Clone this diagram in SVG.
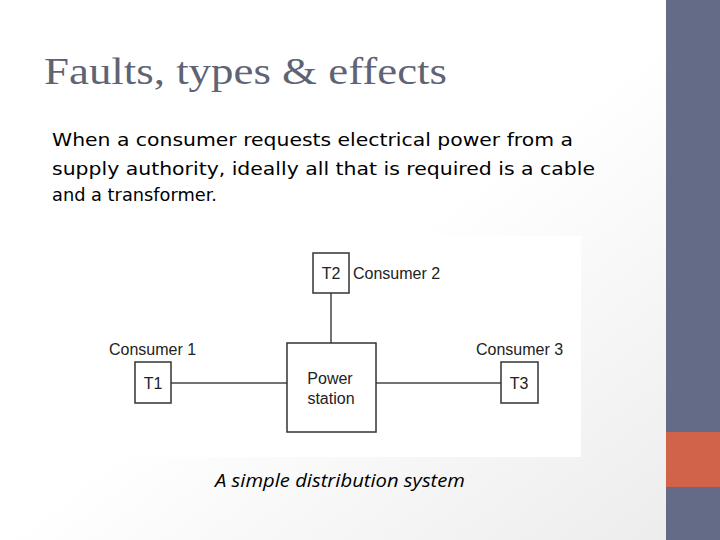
<svg xmlns="http://www.w3.org/2000/svg" width="720" height="540" viewBox="0 0 720 540">
<defs>
<linearGradient id="bg" x1="0" y1="0" x2="1" y2="1"><stop offset="0" stop-color="#ffffff"/><stop offset="0.5" stop-color="#ffffff"/><stop offset="1" stop-color="#ebebeb"/></linearGradient>
<style>
.box{fill:#fff;stroke:#333;stroke-width:1.5}
.lbl{font-family:"Liberation Sans",Arial,sans-serif;font-size:16px;fill:#222}
.body{font-family:"DejaVu Sans",sans-serif;font-size:18px;fill:#000}
.wire{stroke:#444;stroke-width:1.5;fill:none}
</style>
</defs>
<rect width="720" height="540" fill="url(#bg)"/>
<rect x="666" y="0" width="54" height="540" fill="#646b86"/>
<rect x="666" y="432" width="54" height="55" fill="#d0634a"/>
<text x="44" y="84" font-family="'Liberation Serif',serif" font-size="38" fill="#5f6475" textLength="403" lengthAdjust="spacingAndGlyphs">Faults, types &amp; effects</text>
<text class="body" x="52" y="146" textLength="521" lengthAdjust="spacingAndGlyphs">When a consumer requests electrical power from a</text>
<text class="body" x="52" y="175" textLength="543" lengthAdjust="spacingAndGlyphs">supply authority, ideally all that is required is a cable</text>
<text class="body" x="52" y="201" textLength="165" lengthAdjust="spacingAndGlyphs">and a transformer.</text>
<rect x="100" y="236" width="481" height="221" fill="#fff"/>
<g id="connectors">
<line class="wire" x1="331" y1="293" x2="331" y2="343"/>
<line class="wire" x1="171" y1="383" x2="287" y2="383"/>
<line class="wire" x1="376" y1="383" x2="501" y2="383"/>
</g>
<g id="T2"><rect class="box" x="313" y="253" width="36" height="40"/><text class="lbl" x="331" y="279" text-anchor="middle">T2</text><text class="lbl" x="353" y="279">Consumer 2</text></g>
<g id="power"><rect class="box" x="287" y="343" width="89" height="89"/><text class="lbl" x="330" y="384" text-anchor="middle">Power</text><text class="lbl" x="331" y="404" text-anchor="middle">station</text></g>
<g id="T1"><rect class="box" x="135" y="362" width="36" height="41"/><text class="lbl" x="153" y="389" text-anchor="middle">T1</text><text class="lbl" x="109" y="355">Consumer 1</text></g>
<g id="T3"><rect class="box" x="501" y="362" width="37" height="41"/><text class="lbl" x="519" y="389" text-anchor="middle">T3</text><text class="lbl" x="476" y="355">Consumer 3</text></g>
<text x="215" y="487" font-family="'Open Sans',sans-serif" font-style="italic" font-size="19" fill="#000" textLength="250" lengthAdjust="spacingAndGlyphs">A simple distribution system</text>
</svg>
